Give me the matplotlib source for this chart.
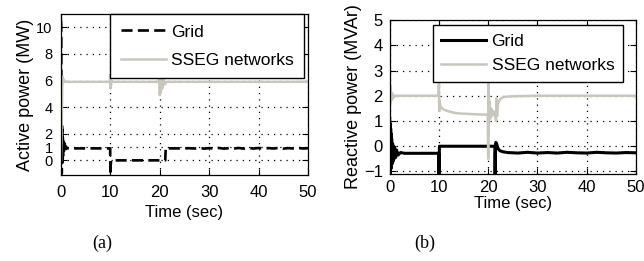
import matplotlib
matplotlib.use("Agg")
import matplotlib.pyplot as plt

plt.rcParams['font.family'] = ['Liberation Sans', 'DejaVu Sans']

# (a) active power
ta_grid = [0, 0.04, 0.08, 0.12, 0.16, 0.2, 0.25, 0.3, 0.35, 0.4, 0.45, 0.5, 0.6, 0.7,
           0.8, 0.9, 1.0, 1.2, 1.5, 3, 9.95, 10.0, 10.05, 10.15, 10.3, 21.1, 21.2, 21.4,
           22, 24, 26, 27, 28, 29, 30, 31, 32, 33, 34, 35, 36, 37, 38, 39, 40, 41, 42,
           43, 44, 45, 46, 47, 48, 49, 50]
pa_grid = [10.5, 10.2, 6.0, 1.0, -1.0, 2.6, -0.2, 2.3, 0.1, 1.8, 0.3, 1.5, 0.5, 1.3,
           0.7, 1.1, 0.85, 0.95, 0.9, 0.9, 0.9, -1.1, -0.4, 0.0, 0.0, 0.0, 0.95, 0.92,
           0.9, 0.9, 0.91, 0.89, 0.93, 0.88, 0.92, 0.89, 0.93, 0.88, 0.92, 0.89, 0.93,
           0.88, 0.92, 0.89, 0.93, 0.88, 0.92, 0.89, 0.93, 0.88, 0.92, 0.89, 0.93, 0.89, 0.91]
ta_sseg = [0, 0.1, 0.2, 0.25, 0.3, 0.4, 0.5, 0.7, 1.0, 9.9, 9.95, 10.0, 10.05, 10.1,
           10.2, 10.4, 19.8, 19.9, 20.0, 20.1, 20.2, 20.35, 20.5, 20.7, 21.0, 21.3, 50]
pa_sseg = [0, 1.5, 4.0, 5.5, 6.3, 5.8, 6.1, 5.9, 5.9, 5.9, 6.4, 5.4, 6.3, 5.6,
           6.0, 5.9, 5.9, 6.8, 4.9, 6.7, 5.1, 6.5, 5.4, 6.2, 5.7, 5.9, 5.9]

# (b) reactive power
tb_grid = [0, 0.05, 0.1, 0.15, 0.2, 0.25, 0.3, 0.35, 0.4, 0.5, 0.6, 0.7, 0.8, 0.9,
           1.0, 1.2, 1.4, 1.7, 2.2, 3, 9.95, 10.0, 10.05, 10.1, 21.35, 21.4, 21.45,
           21.55, 21.7, 22.0, 22.4, 23, 24, 26, 28, 30, 32, 34, 36, 38, 40, 42, 44,
           46, 48, 50]
pb_grid = [1.1, -1.1, 0.9, -1.0, 0.7, -0.9, 0.5, -0.8, 0.3, -0.7, 0.1, -0.6, 0.0, -0.5,
           -0.05, -0.45, -0.15, -0.35, -0.25, -0.28, -0.28, -1.1, -0.5, 0.0, 0.0, -1.1,
           -0.3, 0.15, 0.1, -0.1, -0.18, -0.22, -0.25, -0.27, -0.24, -0.27, -0.25,
           -0.27, -0.24, -0.26, -0.27, -0.24, -0.26, -0.27, -0.25, -0.26]
tb_sseg = [0, 0.1, 0.2, 0.3, 0.5, 0.7, 1.0, 1.5, 9.9, 10.0, 10.05, 10.1, 10.3, 10.6,
           11, 12, 13, 14, 16, 18, 19.9, 20.0, 20.05, 20.1, 20.2, 20.4, 20.6, 20.8,
           21.0, 21.3, 21.6, 21.7, 21.8, 21.9, 22.1, 22.4, 22.8, 23.5, 25, 30, 50]
pb_sseg = [2.3, 1.7, 2.4, 1.8, 2.1, 1.9, 2.0, 2.0, 2.0, 2.5, 1.4, 1.8, 1.6, 1.5,
           1.45, 1.38, 1.33, 1.3, 1.28, 1.26, 1.25, -0.5, 2.8, 0.5, 1.8, 1.1, 1.5, 1.2,
           1.4, 1.3, 1.0, 1.9, 1.2, 1.6, 1.75, 1.85, 1.92, 1.96, 1.98, 2.0, 2.0]

gray = '#c9c6bd'

fig = plt.figure(figsize=(6.44, 2.61), dpi=100)
ax1 = fig.add_axes([0.0947, 0.3295, 0.3836, 0.617])
ax2 = fig.add_axes([0.6051, 0.3333, 0.3825, 0.590])

ax1.plot(ta_grid, pa_grid, color='black', lw=1.9, dashes=(4.2, 2), label='Grid')
ax1.plot(ta_sseg, pa_sseg, color=gray, lw=1.8, label='SSEG networks')
ax1.set_xlim(0, 50)
ax1.set_ylim(-1.1, 11)
ax1.set_yticks([0, 1, 2, 4, 6, 8, 10])
ax1.set_ylabel('Active power (MW)', fontsize=13, labelpad=2)

ax2.plot(tb_grid, pb_grid, color='black', lw=2.2, label='Grid')
ax2.plot(tb_sseg, pb_sseg, color=gray, lw=1.8, label='SSEG networks')
ax2.set_xlim(0, 50)
ax2.set_ylim(-1.1, 5)
ax2.set_yticks([-1, 0, 1, 2, 3, 4, 5])
ax2.set_ylabel('Reactive power (MVAr)', fontsize=13, labelpad=1)

for ax in (ax1, ax2):
    ax.set_xticks([0, 10, 20, 30, 40, 50])
    ax.grid(True, color='black', linestyle=(0, (1, 4)), lw=0.9)
    ax.tick_params(direction='in', length=4, top=True, right=True, labelsize=12, pad=5)
    for s in ax.spines.values():
        s.set_linewidth(0.9)
ax1.tick_params(axis='y', labelsize=10.5, pad=6)
ax1.tick_params(axis='x', pad=7)
ax1.set_xlabel('Time (sec)', fontsize=12, labelpad=4)
ax2.tick_params(axis='x', pad=4)
ax2.set_xlabel('Time (sec)', fontsize=12, labelpad=1)

leg1 = ax1.legend(loc='upper right', bbox_to_anchor=(0.984, 1.0), fontsize=12.5,
                  frameon=True, fancybox=False, edgecolor='black', framealpha=1,
                  handlelength=2.6, handletextpad=0.3, borderpad=0.6, labelspacing=0.75,
                  borderaxespad=0)
leg1.get_frame().set_linewidth(1.0)
leg2 = ax2.legend(loc='upper right', bbox_to_anchor=(0.947, 0.968), fontsize=12.5,
                  frameon=True, fancybox=False, edgecolor='black', framealpha=1,
                  handlelength=2.6, handletextpad=0.3, borderpad=0.5, labelspacing=0.55,
                  borderaxespad=0)
leg2.get_frame().set_linewidth(1.0)

fig.text(0.158, 0.069, '(a)', ha='center', va='center', fontsize=13, family='Liberation Serif')
fig.text(0.66, 0.069, '(b)', ha='center', va='center', fontsize=13, family='Liberation Serif')

fig.savefig('out.png', dpi=100)
